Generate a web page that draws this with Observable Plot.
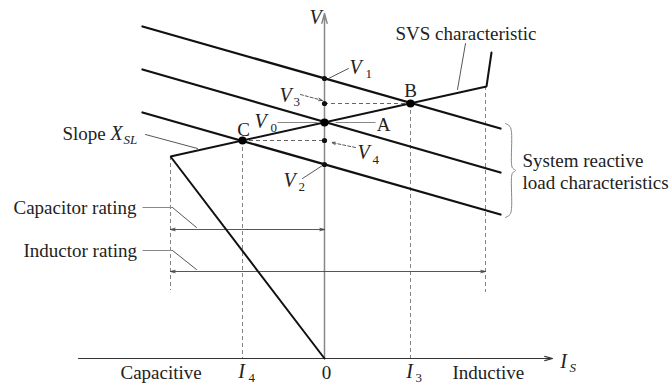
<!DOCTYPE html>
<html>
<head>
<meta charset="utf-8">
<script src="https://cdn.jsdelivr.net/npm/d3@7"></script>
<script src="https://cdn.jsdelivr.net/npm/@observablehq/plot@0.6"></script>
<style>
  html, body { margin: 0; padding: 0; background: #fff; }
  #chart { width: 672px; height: 385px; }
  #chart svg text { font-family: "Liberation Serif", "Times New Roman", serif; }
</style>
</head>
<body>
<div id="chart"></div>
<script>
// ---- Data (current I_S in arbitrary units, voltage V in arbitrary units) ----
const currentLimits = { capacitive: -1.54, inductive: 1.61 };
const I4 = -0.82, I3 = 0.86;
const V0 = 2.36, V1 = 2.80, V2 = 1.94, V3 = 2.55, V4 = 2.18;

// three parallel system reactive load characteristics (end points)
const loadLineNames = ["V1", "V0", "V2"];
const loadLineI = [-1.82, 1.76];
const loadLineV = [[3.32, 2.30], [2.89, 1.86], [2.46, 1.44]];

// SVS characteristic polyline
const svsI = [0, -1.54, 1.62, 1.67];
const svsV = [0, 2.02, 2.72, 3.06];

// operating points
const opNames = ["A", "B", "C"];
const opI = [0, I3, I4];
const opV = [V0, V3, V4];

// voltage marks on the V axis
const axisVNames = ["V1", "V3", "V4", "V2"];
const axisV = [V1, V3, V4, V2];

// rating levels
const ratingV = { capacitor: 1.29, inductor: 0.87 };

// axes extents
const axisIRange = [-2.46, 2.28];
const axisVTop = 3.45;

// ---- derived tables ----
const loadLines = loadLineNames.flatMap((n, k) =>
  loadLineI.map((I, j) => ({ line: n, I, V: loadLineV[k][j] })));
const svs = svsI.map((I, j) => ({ I, V: svsV[j] }));
const ops = opNames.map((n, j) => ({ name: n, I: opI[j], V: opV[j] }));
const axisDots = axisVNames.map((n, j) => ({ name: n, I: 0, V: axisV[j] }));

const dashedV = [
  { I: currentLimits.capacitive, V1: svsV[1], V2: 0.68 },
  { I: I4, V1: V4, V2: 0 },
  { I: I3, V1: V3, V2: 0 },
  { I: currentLimits.inductive, V1: svsV[2], V2: 0.66 }
];
const dashedH = [
  { V: V3, I1: 0, I2: I3 },
  { V: V4, I1: I4, I2: 0 }
];

const serif = "'Liberation Serif', 'Times New Roman', serif";
const FS = 19, SUB = 13;

// text labels (data coordinates)
const startLabels = [
  { x: 0.71, y: 3.25, t: "SVS characteristic" },
  { x: -2.62, y: 2.25, t: "Slope" },
  { x: -3.11, y: 1.51, t: "Capacitor rating" },
  { x: -3.01, y: 1.08, t: "Inductor rating" },
  { x: 1.98, y: 1.98, t: "System reactive" },
  { x: 1.98, y: 1.76, t: "load characteristics" },
  { x: -2.04, y: -0.14, t: "Capacitive" },
  { x: 1.28, y: -0.14, t: "Inductive" }
];
const middleLabels = [
  { x: 0.02, y: -0.14, t: "0" },
  { x: 0.59, y: 2.34, t: "A" },
  { x: 0.86, y: 2.68, t: "B" },
  { x: -0.81, y: 2.29, t: "C" }
];
const italicLabels = [
  { x: -0.09, y: 3.41, t: "V" },
  { x: 0.31, y: 2.91, t: "V" },
  { x: -0.39, y: 2.63, t: "V" },
  { x: -0.64, y: 2.37, t: "V" },
  { x: 0.39, y: 2.06, t: "V" },
  { x: -0.35, y: 1.78, t: "V" },
  { x: -2.08, y: 2.25, t: "X" },
  { x: -0.83, y: -0.13, t: "I" },
  { x: 0.85, y: -0.13, t: "I" },
  { x: 2.39, y: -0.03, t: "I" }
];
const subLabels = [
  { x: 0.41, y: 2.85, t: "1" },
  { x: -0.31, y: 2.57, t: "3" },
  { x: -0.54, y: 2.31, t: "0" },
  { x: 0.48, y: 1.99, t: "4" },
  { x: -0.26, y: 1.72, t: "2" },
  { x: -0.76, y: -0.19, t: "4" },
  { x: 0.91, y: -0.19, t: "3" }
];
const italicSubLabels = [
  { x: -2.01, y: 2.19, t: "SL" },
  { x: 2.45, y: -0.09, t: "S" }
];

// leader arrows
const leaders = [
  { x1: 0.24, y1: 2.90, x2: 0.04, y2: 2.80, bend: 0 },
  { x1: -0.22, y1: 1.80, x2: -0.02, y2: 1.93, bend: 0 },
  { x1: -1.79, y1: 2.24, x2: -1.27, y2: 2.10, bend: 0 },
  { x1: 1.41, y1: 3.15, x2: 1.33, y2: 2.69, bend: -8 },
  { x1: -1.52, y1: 1.51, x2: -1.28, y2: 1.31, bend: 35 },
  { x1: -1.52, y1: 1.08, x2: -1.28, y2: 0.89, bend: 35 }
];
const dashedLeaders = [
  { x1: -0.24, y1: 2.64, x2: -0.02, y2: 2.58 },
  { x1: 0.31, y1: 2.11, x2: 0.07, y2: 2.16 }
];
const straightLeaders = [
  { x1: -1.82, y1: 1.51, x2: -1.52, y2: 1.51 },
  { x1: -1.82, y1: 1.08, x2: -1.52, y2: 1.08 },
  { x1: -0.47, y1: V0, x2: -0.07, y2: V0 },
  { x1: 0.11, y1: V0, x2: 0.51, y2: V0 }
];
// rating double arrows (split at midpoint into two single-headed arrows)
const capMid = (currentLimits.capacitive + 0) / 2;
const indMid = (currentLimits.capacitive + currentLimits.inductive) / 2;
const ratingArrows = [
  { x1: capMid, x2: currentLimits.capacitive, y: ratingV.capacitor },
  { x1: capMid, x2: 0, y: ratingV.capacitor },
  { x1: indMid, x2: currentLimits.capacitive, y: ratingV.inductor },
  { x1: indMid, x2: currentLimits.inductive, y: ratingV.inductor }
];

// brace
const braceI = [1.81, 1.855, 1.87, 1.87, 1.88, 1.91, 1.88, 1.87, 1.87, 1.855, 1.81];
const braceV = [2.35, 2.32, 2.26, 1.95, 1.905, 1.88, 1.855, 1.81, 1.50, 1.44, 1.41];
const brace = braceI.map((I, j) => ({ I, V: braceV[j] }));

const textOpts = { x: "x", y: "y", text: "t", fontFamily: serif, fill: "#222" };

const chart = Plot.plot({
  width: 672,
  height: 385,
  marginLeft: 0, marginRight: 0, marginTop: 0, marginBottom: 0,
  x: { domain: [-3.24, 3.48], axis: null },
  y: { domain: [-0.27, 3.58], axis: null },
  style: { background: "#fff", fontFamily: serif },
  marks: [
    // dashed guide lines
    Plot.ruleX(dashedV, { x: "I", y1: "V1", y2: "V2", stroke: "#777", strokeWidth: 0.9, strokeDasharray: "4,3" }),
    Plot.ruleY(dashedH, { y: "V", x1: "I1", x2: "I2", stroke: "#555", strokeWidth: 0.9, strokeDasharray: "4,3" }),
    // axes
    Plot.arrow([{ x1: axisIRange[0], x2: axisIRange[1], y: 0 }], { x1: "x1", x2: "x2", y1: "y", y2: "y", stroke: "#333", strokeWidth: 1.2, headLength: 10, headAngle: 30 }),
    Plot.arrow([{ x: 0, y1: 0, y2: axisVTop }], { x1: "x", x2: "x", y1: "y1", y2: "y2", stroke: "#888", strokeWidth: 1.5, headLength: 10, headAngle: 30 }),
    // rating arrows
    Plot.arrow(ratingArrows, { x1: "x1", x2: "x2", y1: "y", y2: "y", stroke: "#444", strokeWidth: 0.9, headLength: 8, headAngle: 30 }),
    // load lines
    Plot.line(loadLines, { x: "I", y: "V", z: "line", stroke: "#111", strokeWidth: 2.3 }),
    // SVS characteristic
    Plot.line(svs, { x: "I", y: "V", stroke: "#111", strokeWidth: 2, strokeLinejoin: "miter" }),
    // brace
    Plot.line(brace, { x: "I", y: "V", curve: "catmull-rom", stroke: "#888", strokeWidth: 1 }),
    // leaders
    Plot.link(straightLeaders, { x1: "x1", y1: "y1", x2: "x2", y2: "y2", stroke: "#888", strokeWidth: 1 }),
    Plot.arrow(leaders, { x1: "x1", y1: "y1", x2: "x2", y2: "y2", bend: "bend", stroke: "#444", strokeWidth: 0.9, headLength: 7, headAngle: 35 }),
    Plot.arrow(dashedLeaders, { x1: "x1", y1: "y1", x2: "x2", y2: "y2", stroke: "#444", strokeWidth: 0.9, strokeDasharray: "3,2", headLength: 7, headAngle: 35 }),
    // points
    Plot.dot(axisDots, { x: "I", y: "V", r: 2.6, fill: "#111" }),
    Plot.dot(ops, { x: "I", y: "V", r: 4, fill: "#000" }),
    // text
    Plot.text(startLabels, { ...textOpts, textAnchor: "start", fontSize: FS }),
    Plot.text(middleLabels, { ...textOpts, textAnchor: "middle", fontSize: FS }),
    Plot.text(italicLabels, { ...textOpts, textAnchor: "middle", fontSize: FS + 1, fontStyle: "italic" }),
    Plot.text(subLabels, { ...textOpts, textAnchor: "start", fontSize: SUB }),
    Plot.text(italicSubLabels, { ...textOpts, textAnchor: "start", fontSize: SUB, fontStyle: "italic" })
  ]
});
document.getElementById("chart").appendChild(chart);
</script>
</body>
</html>
